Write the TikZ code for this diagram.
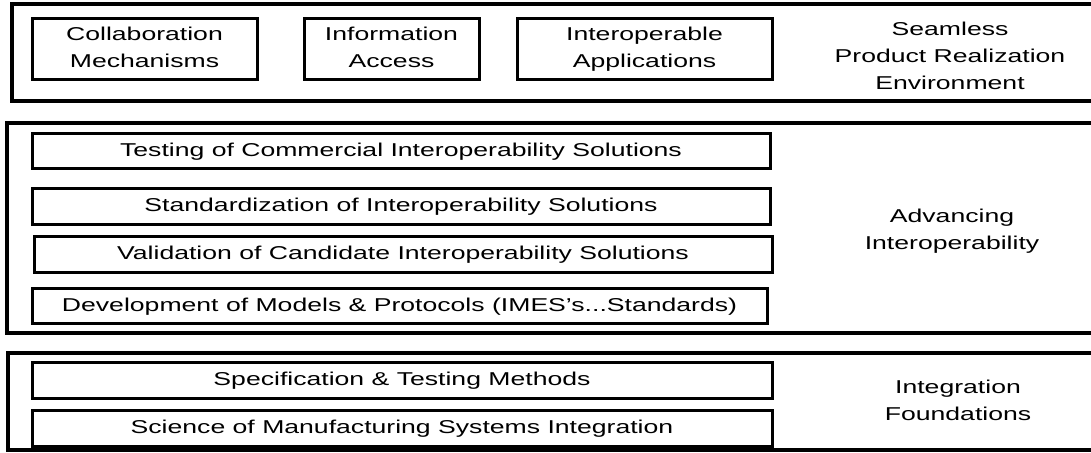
\documentclass[tikz,border=0pt]{standalone}
\usepackage{fontspec}
\setmainfont[FakeStretch=1.43]{Liberation Sans}

\tikzset{
  layer/.style={draw, rectangle, line width=3.2pt, inner sep=0pt},
  item/.style={draw, rectangle, line width=3pt, inner sep=0pt, align=center,
    font=\fontsize{18.6}{26.5}\selectfont,
    execute at begin node={\rule{0pt}{23.2pt}},
    execute at end node={\vphantom{p}}},
  bar/.style={draw, rectangle, line width=3pt, inner sep=0pt,
    font=\fontsize{18.6}{26.5}\selectfont, text height=13.4pt, text depth=2pt},
  caption/.style={align=center, inner sep=0pt, font=\fontsize{18.6}{27}\selectfont},
}

\begin{document}
\begin{tikzpicture}[x=1pt, y=-1pt]
\useasboundingbox (0,0) rectangle (1091,452);

% the three layers run past the right edge
\begin{scope}
  \clip (0,0) rectangle (1091,452);
  \node[layer, minimum width=1200pt, minimum height=97pt]  (spre) at (612,52.5) {};
  \node[layer, minimum width=1200pt, minimum height=210pt] (advi) at (607,228) {};
  \node[layer, minimum width=1200pt, minimum height=97pt]  (intf) at (608,401.5) {};
\end{scope}

% seamless product realization environment
\node[item, minimum width=225pt, minimum height=60pt] (collab) at (144.5,49) {Collaboration\\Mechanisms};
\node[item, minimum width=175pt, minimum height=60pt] (info)   at (391.5,49) {Information\\Access};
\node[item, minimum width=255pt, minimum height=60pt] (apps)   at (644.5,49) {Interoperable\\Applications};
\node[caption] (spretext) at (950,56) {Seamless\\Product Realization\\Environment};

% advancing interoperability
\node[bar, minimum width=738pt, minimum height=35pt] (testing) at (401,150.5) {Testing of Commercial Interoperability Solutions};
\node[bar, minimum width=738pt, minimum height=36pt] (stand)   at (401,206)   {Standardization of Interoperability Solutions};
\node[bar, minimum width=738pt, minimum height=36pt] (valid)   at (403,254)   {Validation of Candidate Interoperability Solutions};
\node[bar, minimum width=735pt, minimum height=35pt] (devel)   at (399.5,305.5) {Development of Models \& Protocols (IMES’s...Standards)};
\node[caption] (advitext) at (952,231) {Advancing\\Interoperability};

% integration foundations
\node[bar, minimum width=740pt, minimum height=36pt] (spec)    at (402,380) {Specification \& Testing Methods};
\node[bar, minimum width=740pt, minimum height=36pt] (science) at (402,428) {Science of Manufacturing Systems Integration};
\node[caption] (intftext) at (958,400) {Integration\\Foundations};
\end{tikzpicture}
\end{document}
